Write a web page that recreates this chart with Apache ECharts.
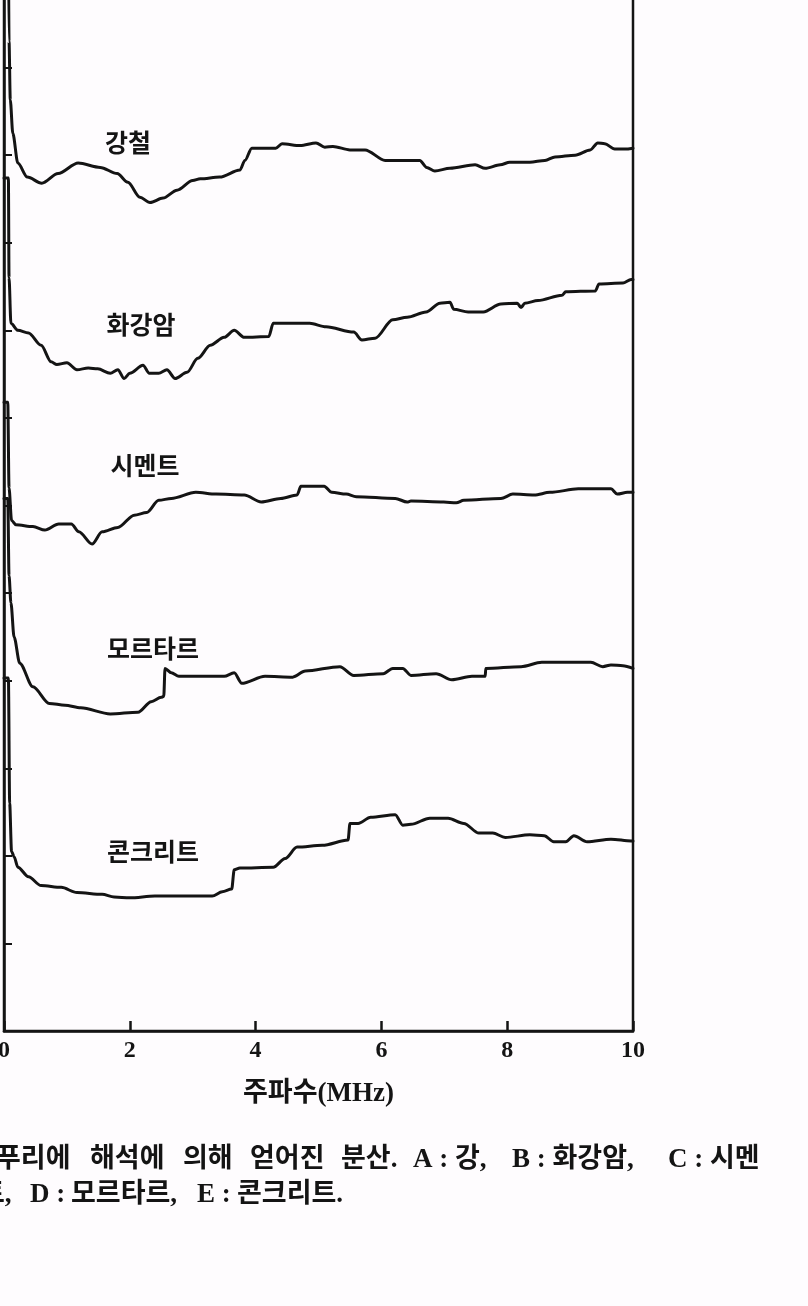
<!DOCTYPE html>
<html>
<head>
<meta charset="utf-8">
<script src="https://cdn.jsdelivr.net/npm/echarts@6/dist/echarts.min.js"></script>
<style>
  html, body { margin: 0; padding: 0; background: #fefcfe; }
  #chart { width: 808px; height: 1306px; }
</style>
</head>
<body>
<div id="chart"></div>
<script>
// frequency (MHz), relative dispersion (one unit = one y tick, traces are offset)
const steel = [[0.07, 12.5], [0.08, 11.3], [0.10, 10.63], [0.14, 10.25], [0.22, 9.91], [0.37, 9.75], [0.60, 9.68], [0.86, 9.79], [1.18, 9.91], [1.53, 9.86], [1.80, 9.79], [1.97, 9.69], [2.16, 9.52], [2.32, 9.46], [2.53, 9.51], [2.75, 9.60], [3.00, 9.71], [3.12, 9.73], [3.43, 9.75], [3.75, 9.83], [3.83, 9.94], [3.94, 10.08], [4.32, 10.08], [4.42, 10.13], [4.71, 10.11], [4.96, 10.14], [5.10, 10.09], [5.23, 10.10], [5.50, 10.06], [5.74, 10.06], [6.06, 9.94], [6.30, 9.94], [6.61, 9.94], [6.72, 9.86], [6.85, 9.82], [7.09, 9.85], [7.49, 9.89], [7.65, 9.85], [7.89, 9.89], [8.04, 9.92], [8.36, 9.92], [8.60, 9.94], [8.76, 9.98], [9.08, 10.00], [9.32, 10.06], [9.44, 10.14], [9.55, 10.13], [9.71, 10.07], [9.87, 10.07], [10.0, 10.08]]
const granite = [[0, 9.74], [0.07, 9.74], [0.08, 8.6], [0.11, 8.08], [0.22, 8.00], [0.39, 7.97], [0.59, 7.83], [0.75, 7.64], [0.84, 7.61], [1.00, 7.63], [1.16, 7.55], [1.34, 7.57], [1.49, 7.56], [1.69, 7.51], [1.81, 7.55], [1.91, 7.45], [2.00, 7.51], [2.21, 7.60], [2.31, 7.51], [2.46, 7.51], [2.59, 7.55], [2.72, 7.45], [2.91, 7.52], [3.08, 7.68], [3.28, 7.83], [3.50, 7.92], [3.66, 8.00], [3.82, 7.92], [4.21, 7.93], [4.28, 8.08], [4.86, 8.08], [5.12, 8.04], [5.56, 7.98], [5.69, 7.89], [5.90, 7.91], [6.18, 8.12], [6.41, 8.15], [6.71, 8.21], [6.93, 8.31], [7.09, 8.32], [7.15, 8.24], [7.38, 8.21], [7.62, 8.21], [7.90, 8.30], [8.16, 8.31], [8.22, 8.26], [8.28, 8.31], [8.49, 8.34], [8.87, 8.40], [8.93, 8.44], [9.40, 8.45], [9.46, 8.53], [9.84, 8.54], [9.97, 8.58], [10.0, 8.58]]
const cement = [[0, 7.18], [0.06, 7.18], [0.08, 6.2], [0.12, 5.83], [0.19, 5.78], [0.46, 5.76], [0.65, 5.72], [0.87, 5.79], [1.07, 5.79], [1.19, 5.70], [1.40, 5.56], [1.56, 5.70], [1.81, 5.75], [2.07, 5.89], [2.27, 5.92], [2.46, 6.06], [2.66, 6.08], [3.05, 6.15], [3.37, 6.13], [3.82, 6.12], [4.09, 6.04], [4.40, 6.08], [4.66, 6.12], [4.72, 6.22], [5.09, 6.22], [5.21, 6.15], [5.44, 6.13], [5.60, 6.10], [6.22, 6.08], [6.41, 6.04], [6.47, 6.05], [6.99, 6.04], [7.19, 6.03], [7.31, 6.06], [7.90, 6.08], [8.09, 6.13], [8.43, 6.12], [8.68, 6.15], [9.13, 6.19], [9.65, 6.19], [9.75, 6.13], [9.91, 6.15], [10.0, 6.15]]
const mortar = [[0, 6.08], [0.06, 6.08], [0.08, 5.2], [0.11, 4.89], [0.16, 4.50], [0.25, 4.20], [0.46, 3.93], [0.72, 3.74], [0.97, 3.72], [1.22, 3.69], [1.69, 3.62], [2.13, 3.64], [2.34, 3.76], [2.50, 3.81], [2.54, 3.82], [2.56, 4.14], [2.66, 4.09], [2.78, 4.05], [3.50, 4.05], [3.66, 4.09], [3.78, 3.97], [4.15, 4.05], [4.59, 4.04], [4.79, 4.11], [5.34, 4.16], [5.56, 4.06], [6.03, 4.08], [6.18, 4.14], [6.34, 4.14], [6.47, 4.06], [6.87, 4.08], [7.12, 4.01], [7.44, 4.05], [7.65, 4.05], [7.66, 4.14], [8.22, 4.16], [8.55, 4.21], [9.00, 4.21], [9.33, 4.21], [9.52, 4.16], [9.65, 4.18], [9.84, 4.17], [10.0, 4.14]]
const concrete = [[0, 4.03], [0.07, 4.03], [0.09, 2.6], [0.12, 2.05], [0.16, 1.99], [0.22, 1.87], [0.39, 1.76], [0.59, 1.66], [0.91, 1.64], [1.16, 1.58], [1.56, 1.56], [1.75, 1.53], [2.00, 1.52], [2.40, 1.54], [3.31, 1.54], [3.47, 1.59], [3.62, 1.62], [3.66, 1.84], [3.75, 1.86], [4.28, 1.87], [4.47, 1.97], [4.66, 2.10], [5.06, 2.12], [5.47, 2.18], [5.50, 2.37], [5.63, 2.37], [5.83, 2.44], [6.22, 2.47], [6.34, 2.35], [6.47, 2.36], [6.77, 2.43], [7.06, 2.43], [7.31, 2.37], [7.55, 2.26], [7.77, 2.26], [7.97, 2.21], [8.36, 2.24], [8.59, 2.23], [8.74, 2.16], [8.93, 2.16], [9.06, 2.23], [9.27, 2.16], [9.65, 2.19], [9.97, 2.17], [10.0, 2.17]]

const names = ['강철', '화강암', '시멘트', '모르타르', '콘크리트']
const traces = [steel, granite, cement, mortar, concrete]

const ink = '#141414'
const serif = "'Liberation Serif', 'DejaVu Serif', 'Noto Sans CJK KR', serif"
const hangul = "'Noto Sans CJK KR', sans-serif"

// label centres in px, next to each trace
const labelPos = [[128, 142], [141, 324], [145, 465], [153, 648], [153, 851]]

// caption pieces: [text, left x, centre y]
const caption = [
    ['푸리에', -4, 1160], ['해석에', 90, 1160], ['의해', 183, 1160], ['얻어진', 250, 1160], ['분산.', 341, 1160],
    ['A : 강,', 413, 1160], ['B : 화강암,', 512, 1160], ['C : 시멘', 668, 1160],
    ['트,', -20, 1195], ['D :', 30, 1195], ['모르타르,', 71, 1195], ['E :', 197, 1195], ['콘크리트.', 237, 1195]
]

const chart = echarts.init(document.getElementById('chart'))

chart.setOption({
    backgroundColor: '#fefcfe',
    animation: false,
    grid: {
        left: 4,
        right: 175,
        top: -20,
        bottom: 275,
        outerBoundsMode: 'none',
        containLabel: false,
        show: true,
        borderColor: ink,
        borderWidth: 2.5
    },
    xAxis: {
        type: 'value',
        min: 0,
        max: 10,
        interval: 2,
        name: '주파수(MHz)',
        nameLocation: 'middle',
        nameGap: 50,
        nameTextStyle: { color: ink, fontSize: 27, fontWeight: 'bold', fontFamily: serif },
        axisLine: { lineStyle: { color: ink, width: 2.5 } },
        axisTick: { inside: true, length: 10, lineStyle: { color: ink, width: 2.5 } },
        axisLabel: { color: ink, fontSize: 24, fontWeight: 'bold', fontFamily: serif, margin: 8 },
        splitLine: { show: false }
    },
    yAxis: {
        type: 'value',
        min: 0,
        max: 12,
        interval: 1,
        axisLine: { show: true, lineStyle: { color: ink, width: 2.5 } },
        axisTick: { show: true, inside: true, length: 8, lineStyle: { color: ink, width: 2 } },
        axisLabel: { show: false },
        splitLine: { show: false }
    },
    series: traces.map((d, i) => ({
        name: names[i],
        type: 'line',
        data: d,
        showSymbol: false,
        smooth: 0.3,
        smoothMonotone: 'x',
        lineStyle: { color: ink, width: 3, join: 'round', cap: 'round' }
    })),
    graphic: [
        ...names.map((n, i) => ({
            type: 'text',
            x: labelPos[i][0],
            y: labelPos[i][1],
            style: { text: n, font: 'bold 25px ' + hangul, fill: ink, align: 'center', verticalAlign: 'middle' }
        })),
        ...caption.map(c => ({
            type: 'text',
            x: c[1],
            y: c[2],
            style: { text: c[0], font: 'bold 27px ' + serif, fill: ink, verticalAlign: 'middle' }
        }))
    ]
})
</script>
</body>
</html>
